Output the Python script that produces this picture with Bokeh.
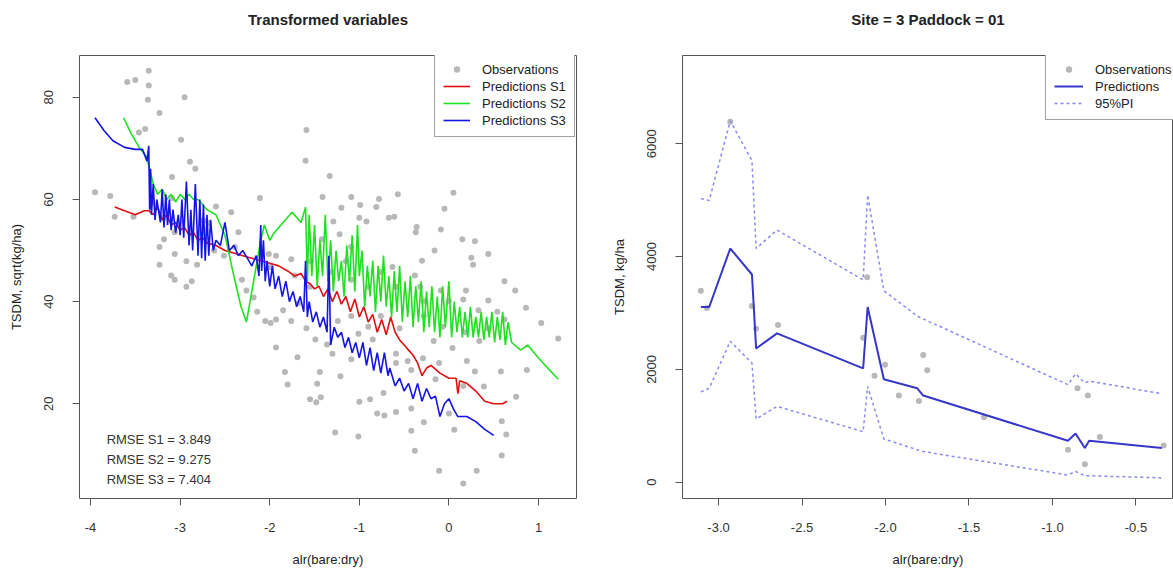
from bokeh.plotting import figure
from bokeh.layouts import row
from bokeh.models import (Range1d, FixedTicker, PrintfTickFormatter, Legend,
                          LegendItem, Label, Title)
from bokeh.embed import file_html
from bokeh.resources import INLINE

FONT = "Liberation Sans"
TXT = "#222222"

# ---------------- left panel data ----------------
left_title = "Transformed variables"
left_xlabel = "alr(bare:dry)"
left_ylabel = "TSDM, sqrt(kg/ha)"
left_xticks = [-4, -3, -2, -1, 0, 1]
left_yticks = [20, 40, 60, 80]

obs_x = [-3.95, -3.78, -3.73, -3.59, -3.50, -3.35, -3.35, -3.36, -3.23, -2.95, -3.46, -3.39, -2.99, -2.89,
         -2.83, -3.09, -2.11, -1.59, -1.60, -1.33, -1.41, -1.09, -0.78, -0.57, 0.05, -0.05, -1.20, -0.99,
         -0.81, -0.61, -0.36, -0.09, 0.15, 0.29, 0.44, 0.25, 0.27, 0.62, 0.74, 0.86, 0.44, 0.19, 1.03, 1.22,
         0.87, 0.75, 0.64, 0.59, 0.59, 0.31, 0.16, -0.11, -0.38, -0.42, -0.28, 0.06, -1.01, -1.27, 0.58,
         0.29, 0.39, 0.16, -0.15, 0.00, -0.72, -0.80, -0.59, -1.00, -0.88, -0.73, -0.42, -1.55, -1.48,
         -1.43, -1.47, -1.44, -1.83, -1.69, -1.93, -1.21, -0.59, -0.46, -0.29, -0.17, -0.11, 0.04, 0.20,
         0.44, 0.34, 0.19, -0.07, -0.28, -0.28, -0.09, 0.00, -0.55, -0.76, -0.90, -1.01, -1.09, -1.24,
         -0.32, -0.37, -0.67, -0.30, -0.16, -0.38, -0.76, -0.63, -0.59, -0.90, -1.09, -1.15, -1.31, -1.42,
         -1.29, -1.22, -1.00, -0.92, -1.09, -1.54, -1.76, -1.72, -1.55, -1.68, -1.85, -1.93, -1.99, -2.05,
         -2.14, -2.18, -2.26, -2.31, -1.99, -1.93, -2.01, -2.35, -2.39, -2.51, -2.62, -2.81, -2.93, -3.06,
         -3.23, -3.23, -3.18, -3.06, -2.93, -2.87, -3.10, -3.06, -2.74, -2.68, -2.60, -2.43, -3.09, -3.18,
         -3.31, -3.52, -1.80, -1.49, -1.36, -1.59, -1.76, -0.85, -0.59, -0.42, -1.09, -1.30, 0.33, 0.16,
         0.62, 0.54]
obs_y = [61.4, 60.7, 56.6, 83.0, 83.4, 85.2, 82.3, 79.5, 76.9, 80.0, 73.1, 73.8, 71.7, 67.4,
         66.0, 64.4, 60.3, 73.6, 67.6, 64.6, 60.5, 60.5, 60.1, 61.0, 61.3, 58.2, 58.4, 58.9,
         58.5, 56.6, 54.6, 54.1, 52.2, 51.8, 49.3, 48.6, 47.2, 44.0, 42.2, 38.8, 40.2, 42.2, 35.8, 32.8,
         26.6, 21.4, 14.0, 16.6, 9.9, 6.9, 4.4, 6.9, 10.8, 14.7, 16.4, 14.9, 13.6, 14.4, 26.3,
         26.3, 23.4, 23.5, 24.8, 18.1, 17.7, 18.1, 18.4, 20.4, 20.9, 22.1, 19.1, 20.9, 20.3,
         21.3, 23.9, 26.2, 26.2, 29.1, 31.0, 25.4, 29.8, 28.4, 28.9, 32.3, 28.0, 30.9, 28.4,
         34.8, 32.3, 34.0, 35.1, 37.2, 40.1, 42.2, 40.1, 34.8, 37.2, 35.1, 33.7, 37.2, 36.2,
         42.9, 53.6, 56.4, 48.0, 50.0, 45.1, 45.8, 46.8, 42.9, 42.9, 44.3, 47.9, 45.8, 52.2,
         55.7, 53.2, 56.4, 55.7, 50.7, 47.9, 48.3, 45.1, 42.9, 39.7, 38.3, 36.5, 35.8, 36.2,
         38.0, 40.8, 42.2, 44.3, 46.8, 49.0, 49.3, 53.6, 50.7, 49.0, 50.0, 47.2, 47.9, 49.3,
         47.2, 50.7, 52.2, 53.6, 42.9, 44.0, 45.1, 44.3, 55.9, 55.4, 58.6, 57.5, 60.3, 56.4,
         59.3, 56.6, 23.8, 32.6, 31.6, 34.8, 36.2, 32.6, 28.0, 26.6, 28.7, 29.8, 38.3, 40.4,
         36.5, 38.0]

s1_x = [-3.73, -3.62, -3.50, -3.40, -3.35, -3.30, -3.25, -3.20, -3.15, -3.10, -3.05, -3.00, -2.95,
        -2.90, -2.85, -2.80, -2.75, -2.70, -2.60, -2.50, -2.40, -2.30, -2.20, -2.10, -2.00, -1.90,
        -1.80, -1.72, -1.65, -1.60, -1.55, -1.50, -1.45, -1.40, -1.35, -1.30, -1.25, -1.20, -1.15,
        -1.10, -1.05, -1.00, -0.95, -0.90, -0.85, -0.80, -0.75, -0.70, -0.65, -0.60, -0.55, -0.50,
        -0.45, -0.40, -0.35, -0.30, -0.25, -0.20, -0.10, 0.00, 0.08, 0.10, 0.12, 0.20, 0.30, 0.40,
        0.50, 0.60, 0.65]
s1_y = [58.5, 57.8, 57.0, 57.8, 57.8, 57.0, 58.5, 56.0, 57.0, 55.0, 55.5, 54.0, 54.5,
        53.0, 53.5, 52.0, 52.5, 51.5, 51.0, 50.0, 49.5, 49.0, 48.5, 48.0, 47.5, 47.0,
        46.0, 45.0, 45.5, 44.0, 43.5, 42.5, 43.0, 41.0, 42.5, 40.0, 42.0, 39.5, 41.0,
        38.0, 40.5, 37.0, 39.0, 36.0, 37.5, 34.0, 36.5, 33.5, 37.0, 34.0, 32.5, 31.5,
        30.5, 29.5, 28.0, 25.5, 27.0, 27.5, 26.0, 25.0, 25.0, 22.0, 24.5, 24.0, 22.5, 20.5,
        20.0, 20.0, 20.5]

s2_x = [-3.63, -3.55, -3.45, -3.38, -3.34, -3.30, -3.25, -3.20, -3.15, -3.10, -3.05, -3.00, -2.95,
        -2.90, -2.85, -2.80, -2.75, -2.70, -2.60, -2.50, -2.40, -2.32, -2.26, -2.20, -2.14, -2.10,
        -2.06, -2.00, -1.95, -1.85, -1.75, -1.65, -1.60, -1.58, -1.56, -1.53, -1.50, -1.47, -1.44,
        -1.41, -1.38, -1.35, -1.32, -1.29, -1.26, -1.23, -1.20, -1.17, -1.14, -1.11, -1.08, -1.05,
        -1.02, -1.00, -0.97, -0.94, -0.91, -0.88, -0.85, -0.82, -0.79, -0.76, -0.73, -0.70, -0.67,
        -0.64, -0.61, -0.58, -0.55, -0.52, -0.49, -0.46, -0.43, -0.40, -0.37, -0.34, -0.31, -0.28,
        -0.25, -0.22, -0.19, -0.16, -0.13, -0.10, -0.07, -0.04, 0.00, 0.03, 0.06, 0.09, 0.12, 0.15,
        0.18, 0.21, 0.24, 0.27, 0.30, 0.33, 0.36, 0.39, 0.42, 0.45, 0.48, 0.51, 0.54, 0.57, 0.60,
        0.63, 0.66, 0.70, 0.80, 0.88, 0.95, 1.05, 1.22]
s2_y = [76.0, 73.0, 70.0, 68.5, 66.0, 63.0, 61.0, 62.0, 60.0, 61.0, 59.5, 61.0, 60.0,
        61.0, 60.0, 60.0, 59.0, 58.0, 57.0, 53.0, 45.0, 39.0, 36.0, 42.0, 48.0, 52.0,
        55.0, 52.0, 53.5, 55.5, 57.5, 55.5, 58.5, 44.0, 57.0, 45.0, 55.0, 43.0, 52.0,
        45.0, 57.0, 44.0, 52.0, 42.0, 50.0, 44.0, 48.0, 41.0, 51.0, 44.0, 53.0, 42.0,
        55.0, 45.0, 50.0, 39.0, 47.0, 41.0, 48.0, 38.0, 47.0, 40.0, 49.0, 39.0, 45.0,
        37.0, 46.0, 38.0, 47.0, 36.0, 44.0, 37.0, 45.0, 35.0, 43.0, 36.0, 44.0, 34.0,
        42.0, 35.0, 43.0, 34.0, 41.0, 33.0, 43.0, 35.0, 44.0, 33.0, 40.0, 34.0, 39.0, 33.0,
        38.0, 33.0, 39.0, 33.0, 37.0, 33.0, 38.0, 32.5, 37.0, 33.0, 38.0, 32.0, 37.0, 32.5, 38.0,
        31.5, 36.0, 32.0, 30.5, 31.5, 30.0, 28.0, 24.8]

s3_x = [-3.95, -3.85, -3.75, -3.62, -3.50, -3.42, -3.37, -3.35, -3.34, -3.33, -3.32, -3.30, -3.28,
        -3.26, -3.22, -3.20, -3.18, -3.16, -3.14, -3.12, -3.10, -3.08, -3.05, -3.02, -3.00, -2.98,
        -2.96, -2.93, -2.90, -2.88, -2.86, -2.83, -2.80, -2.78, -2.76, -2.74, -2.72, -2.70, -2.68,
        -2.66, -2.63, -2.60, -2.55, -2.50, -2.45, -2.40, -2.35, -2.30, -2.25, -2.20, -2.15, -2.12,
        -2.10, -2.09, -2.07, -2.05, -2.03, -2.00, -1.97, -1.94, -1.90, -1.86, -1.82, -1.78, -1.74,
        -1.70, -1.66, -1.62, -1.60, -1.58, -1.56, -1.52, -1.48, -1.44, -1.40, -1.36, -1.34, -1.32,
        -1.28, -1.24, -1.20, -1.16, -1.12, -1.08, -1.04, -1.00, -0.96, -0.92, -0.88, -0.84, -0.80,
        -0.76, -0.72, -0.68, -0.66, -0.60, -0.55, -0.50, -0.45, -0.40, -0.35, -0.30, -0.25, -0.20,
        -0.15, -0.10, -0.05, 0.00, 0.05, 0.10, 0.20, 0.30, 0.40, 0.50]
s3_y = [76.0, 73.5, 71.5, 70.2, 69.8, 69.8, 67.5, 70.5, 58.0, 66.0, 57.0, 63.0, 56.0,
        60.0, 55.5, 62.0, 54.5, 61.0, 55.0, 60.0, 54.0, 58.0, 53.5, 57.0, 53.0, 60.0,
        52.5, 63.5, 51.0, 58.0, 50.0, 63.0, 49.0, 60.0, 48.5, 59.0, 48.0, 57.0, 49.0,
        56.0, 50.0, 52.0, 51.0, 55.5, 50.0, 51.0, 49.0, 50.0, 48.5, 47.0, 49.0, 45.0,
        55.0, 46.0, 52.0, 44.0, 48.0, 43.0, 47.0, 42.5, 45.0, 41.0, 44.0, 40.0, 42.0,
        39.0, 41.0, 38.0, 48.0, 37.0, 40.0, 36.0, 38.0, 35.0, 37.0, 34.0, 49.0, 31.5,
        35.0, 33.0, 34.0, 31.0, 33.0, 30.0, 32.0, 29.0, 32.0, 27.5, 31.0, 26.5, 30.0,
        26.0, 30.0, 25.5, 27.0, 23.5, 25.0, 22.5, 24.0, 21.0, 24.0, 20.5, 23.0, 21.0,
        21.5, 17.5, 20.0, 21.0, 19.0, 17.5, 17.5, 16.5, 15.0, 13.8]

rmse_names = ["S1", "S2", "S3"]
rmse_values = ["3.849", "9.275", "7.404"]

# ---------------- right panel data ----------------
right_title = "Site = 3 Paddock = 01"
right_xlabel = "alr(bare:dry)"
right_ylabel = "TSDM, kg/ha"
right_xticks = [-3.0, -2.5, -2.0, -1.5, -1.0, -0.5]
right_yticks = [0, 2000, 4000, 6000]

pred_x = [-3.106, -3.056, -2.93, -2.80, -2.775, -2.65, -2.134, -2.107, -2.01, -1.81, -1.774,
          -0.907, -0.862, -0.806, -0.78, -0.345]
pred_y = [3106, 3106, 4143, 3682, 2370, 2638, 2017, 3106, 1825, 1665, 1537,
          736, 865, 608, 736, 608]
upper_y = [5027, 4995, 6404, 5700, 4143, 4470, 3586, 5091, 3394, 2946, 2895,
           1729, 1921, 1761, 1793, 1569]
lower_y = [1601, 1665, 2498, 2113, 1121, 1345, 897, 1697, 768, 576, 544,
           128, 192, 115, 115, 77]

obs2_x = [-3.106, -3.07, -2.93, -2.80, -2.775, -2.644, -2.134, -2.11, -2.066, -2.003, -1.92,
          -1.80, -1.774, -1.75, -1.41, -0.907, -0.85, -0.788, -0.806, -0.716, -0.334]
obs2_y = [3394, 3087, 6391, 3125, 2722, 2786, 2562, 3631, 1889, 2081, 1537,
          1441, 2254, 1985, 1153, 576, 1665, 1537, 320, 800, 653]

OBS_COL = "#b8b8b8"


def style(p, xticks, yticks, xfmt, yfmt, title_text):
    p.xgrid.visible = False
    p.ygrid.visible = False
    p.outline_line_color = "#555555"
    p.outline_line_width = 1
    # spacer panel next to the frame, then the real title above it
    p.add_layout(Title(text=" ", text_font=FONT, text_font_size="17px", standoff=0), "above")
    p.add_layout(Title(text=title_text, text_font=FONT, text_font_size="15px",
                       text_font_style="bold", text_color=TXT, align="center",
                       vertical_align="top", standoff=10), "above")
    for ax in (p.xaxis[0], p.yaxis[0]):
        ax.axis_line_color = None
        ax.major_tick_in = 0
        ax.major_tick_out = 7
        ax.major_tick_line_color = "#555555"
        ax.minor_tick_line_color = None
        ax.major_label_text_font = FONT
        ax.major_label_text_font_size = "13px"
        ax.major_label_text_color = "#333333"
        ax.axis_label_text_font = FONT
        ax.axis_label_text_font_size = "13px"
        ax.axis_label_text_font_style = "normal"
        ax.axis_label_text_color = TXT
    p.xaxis[0].major_label_standoff = 17
    p.xaxis[0].axis_label_standoff = 17
    p.yaxis[0].major_label_standoff = 19
    p.yaxis[0].axis_label_standoff = 18
    p.xaxis[0].ticker = FixedTicker(ticks=xticks)
    p.yaxis[0].ticker = FixedTicker(ticks=yticks)
    p.xaxis[0].formatter = PrintfTickFormatter(format=xfmt)
    p.yaxis[0].formatter = PrintfTickFormatter(format=yfmt)
    p.yaxis[0].major_label_orientation = "vertical"


def style_legend(lg, gw):
    lg.label_text_font = FONT
    lg.label_text_font_size = "13px"
    lg.label_text_color = TXT
    lg.glyph_width = gw
    lg.glyph_height = 16
    lg.label_height = 16
    lg.label_standoff = 12
    lg.padding = 8
    lg.spacing = 1
    lg.margin = 0
    lg.border_line_color = "#444444"
    lg.border_line_width = 1
    lg.background_fill_color = "white"
    lg.background_fill_alpha = 1


# ---------------- left figure ----------------
p1 = figure(width=586, height=569, output_backend="svg", toolbar_location=None,
            x_range=Range1d(-4.123, 1.424), y_range=Range1d(1.46, 88.18),
            x_axis_label=left_xlabel, y_axis_label=left_ylabel,
            min_border_left=79, min_border_right=10, min_border_top=55, min_border_bottom=70)
style(p1, left_xticks, left_yticks, "%d", "%d", left_title)

r_obs = p1.scatter(obs_x, obs_y, size=6, color=OBS_COL, line_color=None)
r_s1 = p1.line(s1_x, s1_y, line_color="#e01010", line_width=1.6)
r_s2 = p1.line(s2_x, s2_y, line_color="#20e020", line_width=1.6)
r_s3 = p1.line(s3_x, s3_y, line_color="#1414e6", line_width=1.6)

lg1 = Legend(items=[LegendItem(label="Observations", renderers=[r_obs]),
                    LegendItem(label="Predictions S1", renderers=[r_s1]),
                    LegendItem(label="Predictions S2", renderers=[r_s2]),
                    LegendItem(label="Predictions S3", renderers=[r_s3])],
             location=(355, 361))
style_legend(lg1, 27)
p1.add_layout(lg1)

for i, (nm, val) in enumerate(zip(rmse_names, rmse_values)):
    p1.add_layout(Label(x=-3.82, y=13.0 - 3.9 * i, text=f"RMSE {nm} = {val}",
                        text_font=FONT, text_font_size="13px", text_color="#333333",
                        text_baseline="middle", text_align="left"))

# ---------------- right figure ----------------
p2 = figure(width=587, height=569, output_backend="svg", toolbar_location=None,
            x_range=Range1d(-3.216, -0.275), y_range=Range1d(-288, 7563),
            x_axis_label=right_xlabel, y_axis_label=right_ylabel,
            min_border_left=96, min_border_right=0, min_border_top=55, min_border_bottom=70)
style(p2, right_xticks, right_yticks, "%.1f", "%d", right_title)

r_o2 = p2.scatter(obs2_x, obs2_y, size=6, color=OBS_COL, line_color=None)
r_pr = p2.line(pred_x, pred_y, line_color="#3636c8", line_width=2)
r_up = p2.line(pred_x, upper_y, line_color="#8a8aee", line_width=1.5, line_dash="3 3")
p2.line(pred_x, lower_y, line_color="#8a8aee", line_width=1.5, line_dash="3 3")

lg2 = Legend(items=[LegendItem(label="Observations", renderers=[r_o2]),
                    LegendItem(label="Predictions", renderers=[r_pr]),
                    LegendItem(label="95%PI", renderers=[r_up])],
             location=(363, 378))
style_legend(lg2, 29)
p2.add_layout(lg2)

layout = row(p1, p2, spacing=0)
open("out.html", "w").write(file_html(layout, INLINE))
